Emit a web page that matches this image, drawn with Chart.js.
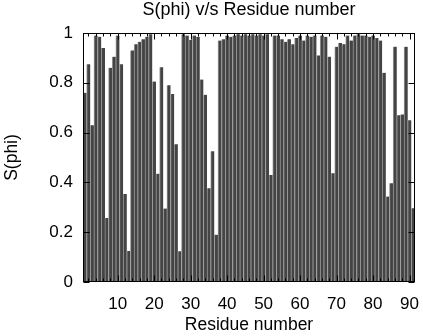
<!DOCTYPE html>
<html><head><meta charset="utf-8">
<script src="https://cdn.jsdelivr.net/npm/chart.js@4/dist/chart.umd.min.js"></script>
<style>html,body{margin:0;padding:0;background:#fff}#wrap{width:423px;height:336px}</style>
</head><body><div id="wrap"><canvas id="c" width="423" height="336"></canvas></div>
<script>
const residues = [1,2,3,4,5,6,7,8,9,10,11,12,13,14,15,16,17,18,19,20,21,22,23,24,25,26,27,28,29,30,
  31,32,33,34,35,36,37,38,39,40,41,42,43,44,45,46,47,48,49,50,51,52,53,54,55,56,57,58,59,60,
  61,62,63,64,65,66,67,68,69,70,71,72,73,74,75,76,77,78,79,80,81,82,83,84,85,86,87,88,89,90,91];
const sPhi = [0.76,0.875,0.63,0.99,0.985,0.94,0.257,0.86,0.905,0.99,
  0.875,0.353,0.125,0.93,0.955,0.965,0.975,0.985,0.995,0.805,
  0.435,0.862,0.295,0.79,0.755,0.553,0.123,0.995,0.99,0.973,
  0.99,0.985,0.813,0.752,0.377,0.525,0.19,0.97,0.975,0.99,
  0.985,0.99,0.995,0.99,0.995,0.99,0.995,0.99,0.995,0.99,
  0.995,0.43,0.99,0.99,0.975,0.965,0.975,0.955,0.98,0.99,
  0.97,0.99,0.985,0.99,0.91,0.99,0.985,0.905,0.437,0.945,
  0.96,0.955,0.99,0.97,0.99,0.995,0.99,0.99,0.985,0.99,
  0.98,0.97,0.84,0.343,0.397,0.945,0.67,0.673,0.945,0.65,0.296];
const xTicks = [10,20,30,40,50,60,70,80,90];
const xMinorTicks = [2,4,6,8,12,14,16,18,22,24,26,28,32,34,36,38,42,44,46,48,52,54,56,58,62,64,66,68,72,74,76,78,82,84,86,88];
const yTicks = [0,0.2,0.4,0.6,0.8,1];

const FONT = "'Liberation Sans', Arial, Helvetica, sans-serif";
Chart.defaults.font.family = FONT;
Chart.defaults.color = '#000';

const framePlugin = {
  id: 'frame',
  afterDatasetsDraw(chart) {
    const {ctx, chartArea: a, scales: {x, y}} = chart;
    ctx.save();
    ctx.strokeStyle = '#000';
    ctx.lineWidth = 1;
    ctx.beginPath();
    const L = Math.round(a.left) + 0.5, R = Math.round(a.right) - 0.5;
    const T = Math.round(a.top) + 0.5, B = Math.round(a.bottom) - 0.5;
    xTicks.forEach(v => {
      const px = Math.round(x.getPixelForValue(v)) + 0.5;
      ctx.moveTo(px, B); ctx.lineTo(px, B - 6);
      ctx.moveTo(px, T); ctx.lineTo(px, T + 6);
    });
    xMinorTicks.forEach(v => {
      const px = Math.round(x.getPixelForValue(v)) + 0.5;
      ctx.moveTo(px, B); ctx.lineTo(px, B - 3);
      ctx.moveTo(px, T); ctx.lineTo(px, T + 3);
    });
    yTicks.forEach(v => {
      const py = Math.round(y.getPixelForValue(v)) + 0.5;
      ctx.moveTo(L, py); ctx.lineTo(L + 6, py);
      ctx.moveTo(R, py); ctx.lineTo(R - 6, py);
    });
    ctx.stroke();
    ctx.strokeRect(L, T, R - L, B - T);
    ctx.restore();
  }
};

new Chart(document.getElementById('c'), {
  type: 'bar',
  data: {
    datasets: [{
      data: residues.map((r, i) => ({x: r, y: sPhi[i]})),
      backgroundColor: '#444444',
      borderColor: '#999999',
      borderWidth: {left: 1, right: 0, top: 0, bottom: 0},
      borderSkipped: false,
      categoryPercentage: 1,
      barPercentage: 1
    }]
  },
  options: {
    responsive: false,
    animation: false,
    devicePixelRatio: 1,
    layout: {padding: {left: 0, right: 8, top: 0, bottom: 0}},
    plugins: {
      legend: {display: false},
      tooltip: {enabled: false},
      title: {
        display: true, text: 'S(phi) v/s Residue number', fullSize: false,
        font: {size: 18, weight: 'normal', lineHeight: 1}, color: '#000',
        padding: {top: 1, bottom: 14}
      }
    },
    scales: {
      x: {
        type: 'linear', min: 0.5, max: 91.5, offset: false,
        grid: {display: false, drawTicks: false, offset: false},
        border: {display: false},
        afterBuildTicks: s => { s.ticks = xTicks.map(v => ({value: v})); },
        ticks: {padding: 12, font: {size: 17}, maxRotation: 0, autoSkip: false,
                callback: v => String(v)},
        title: {display: true, text: 'Residue number', font: {size: 17.5}, padding: {top: 0, bottom: 0}},
        afterFit: s => { s.height = 54; s.paddingLeft = 0; s.paddingRight = 0; }
      },
      y: {
        min: 0, max: 1,
        grid: {display: false, drawTicks: false},
        border: {display: false},
        afterBuildTicks: s => { s.ticks = yTicks.map(v => ({value: v})); },
        ticks: {padding: 10, font: {size: 17}, callback: v => String(v)},
        title: {display: true, text: 'S(phi)', font: {size: 17.5}, padding: {top: 1.5, bottom: 0}},
        afterFit: s => { s.width = 83; s.paddingTop = 0; s.paddingBottom = 0; }
      }
    }
  },
  plugins: [framePlugin]
});
</script>
</body></html>
